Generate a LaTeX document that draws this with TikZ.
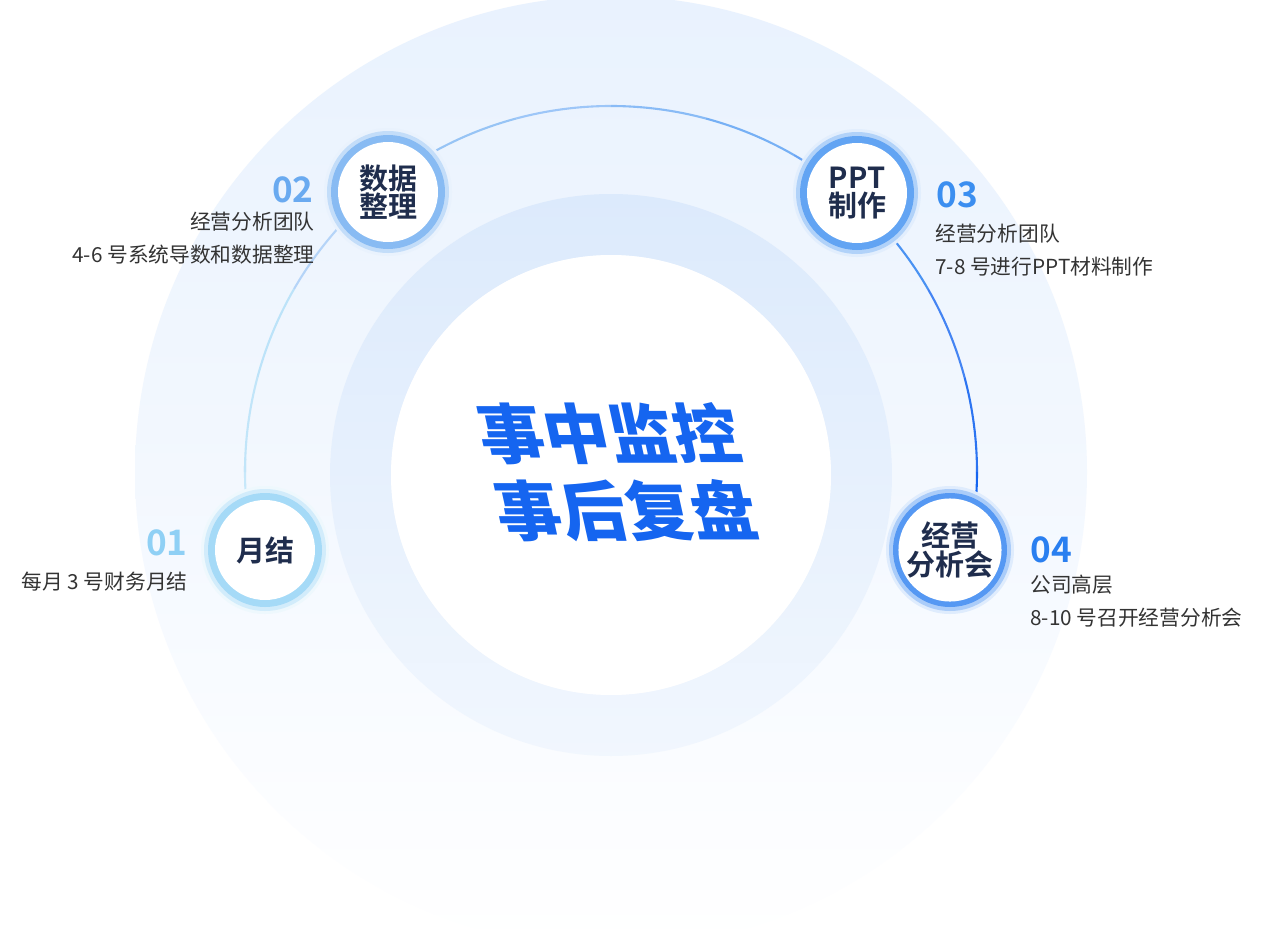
\documentclass[tikz,border=0pt]{standalone}
\usepackage{fontspec}
\newfontfamily\cjk{Noto Sans CJK SC}
\newfontfamily\cjkb{Noto Sans CJK SC Bold}
\newfontfamily\cjkblack{Noto Sans CJK SC Black}
\definecolor{navy}{HTML}{1F2D4D}
\definecolor{txt}{HTML}{333333}
\definecolor{bigc}{HTML}{E9F2FE}
\definecolor{ringc}{HTML}{DCEAFC}
\definecolor{cA}{HTML}{8FD0F5}
\definecolor{cB}{HTML}{6AAAF0}
\definecolor{cC}{HTML}{3B8EF0}
\definecolor{cD}{HTML}{2A7FF0}
\definecolor{mainb}{HTML}{1565F0}
\tikzset{
 stepnode/.style={circle,fill=white,minimum size=100*0.02cm,inner sep=0pt,align=center,font=\cjkb\fontsize{16.5}{18}\selectfont,text=navy},
 numlbl/.style={font=\cjkb\fontsize{20}{22}\selectfont,inner sep=0pt},
 desc/.style={font=\cjk\fontsize{11.8}{18.5}\selectfont,text=txt,inner sep=0pt}
}
\begin{document}
\begin{tikzpicture}[x=0.02cm,y=-0.02cm]
\useasboundingbox (0,0) rectangle (1269,950);
\fill[white] (0,0) rectangle (1269,950);
\shade[top color=bigc,bottom color=white,middle color=bigc!55] (611,472) circle (476);
\shade[even odd rule,top color=ringc,bottom color=ringc!40] (611,475) circle (281) (611,475) circle (220);
\fill[white] (611,475) circle (220);
\coordinate (c) at (611,472);
\foreach \a/\col in {193/cA!50,180/cA!55,165/cA!60,150/cB!50,135/cB!60,120/cB!70,105/cC!50,90/cC!60,75/cC!70,60/cD!70,45/cD!85,30/mainb!80,15/mainb!90,0/mainb}{
 \draw[\col,line width=1.2pt] (c) ++(\a:366 and -366) arc[start angle=\a,end angle=\a-15,x radius=366,y radius=-366];
}
\foreach \n/\x/\y/\col in {n1/265/550/cA,n2/388/192/cB,n3/857/193/cC,n4/950/550/cD}{
 \fill[\col!15] (\x,\y) circle (64);
 \fill[\col!40] (\x,\y) circle (61);
 \fill[\col!80] (\x,\y) circle (57);
}
\node[stepnode] (n1) at (265,550) {月结};
\node[stepnode] (n2) at (388,192) {数据\\[-2pt]整理};
\node[stepnode] (n3) at (857,193) {PPT\\[-2pt]制作};
\node[stepnode] (n4) at (950,550) {经营\\[-2pt]分析会};
\node[numlbl,text=cA,anchor=east] (l1) at (188,543) {01};
\node[desc,anchor=east] (d1) at (188,582) {每月 3 号财务月结};
\node[numlbl,text=cB,anchor=east] (l2) at (314,190) {02};
\node[desc,anchor=north east,align=right] (d2) at (315,212) {经营分析团队\\4-6 号系统导数和数据整理};
\node[numlbl,text=cC,anchor=west] (l3) at (936,195) {03};
\node[desc,anchor=north west,align=left] (d3) at (935,224) {经营分析团队\\7-8 号进行PPT材料制作};
\node[numlbl,text=cD,anchor=west] (l4) at (1030,550) {04};
\node[desc,anchor=north west,align=left] (d4) at (1030,575) {公司高层\\8-10 号召开经营分析会};
\begin{scope}[shift={(618,472)},xslant=-0.22]
\node[transform shape,font=\cjkblack\fontsize{37}{44}\selectfont,text=mainb,align=center] (ctr) at (0,0) {事中监控\\事后复盘};
\end{scope}
\end{tikzpicture}
\end{document}
